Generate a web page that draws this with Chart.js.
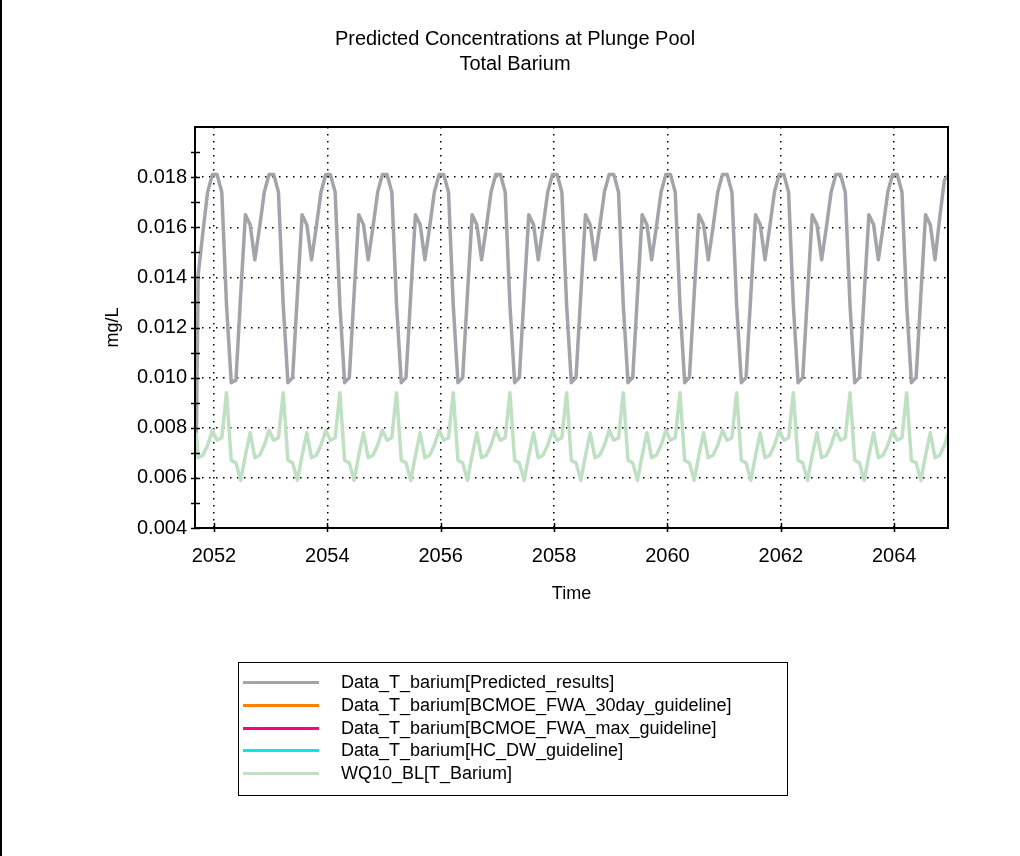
<!DOCTYPE html>
<html>
<head>
<meta charset="utf-8">
<script src="https://cdn.jsdelivr.net/npm/chart.js@4.4.1/dist/chart.umd.min.js"></script>
<style>
body { margin: 0; background: #fff; font-family: "Liberation Sans", Arial, sans-serif; color: #000; }
#wrap { position: relative; width: 1020px; height: 856px; overflow: hidden; }
#edge { position: absolute; left: 0; top: 0; width: 2px; height: 856px; background: #000; }
#title { position: absolute; left: 0; top: 26px; width: 1030px; text-align: center; font-size: 20px; line-height: 25px; }
#legend { position: absolute; left: 238px; top: 662px; width: 550px; height: 134px; box-sizing: border-box; border: 1.5px solid #000; padding-top: 8px; }
.row { position: relative; height: 22.75px; font-size: 18px; line-height: 22.75px; }
.row .swatch { position: absolute; left: 4px; top: 10px; width: 76px; height: 3px; }
.row .txt { position: absolute; left: 102px; top: 0; white-space: nowrap; }
</style>
</head>
<body>
<div id="wrap">
  <canvas id="concChart" width="1020" height="856"></canvas>
  <div id="edge"></div>
  <div id="title">Predicted Concentrations at Plunge Pool<br>Total Barium</div>
  <div id="legend"></div>
</div>
<script>
// monthly model output, first value is the initial condition at the start of the run
const startTime = 2051.69;
const firstMonth = 2051.721;

const seriesNames = [
    'Data_T_barium[Predicted_results]',
    'Data_T_barium[BCMOE_FWA_30day_guideline]',
    'Data_T_barium[BCMOE_FWA_max_guideline]',
    'Data_T_barium[HC_DW_guideline]',
    'WQ10_BL[T_Barium]'
];
const seriesColors = ['#a3a3aa', '#ff8000', '#ff0080', '#00e8f0', '#c0e0c4'];

// mg/L, one row per year (rows start in July)
const predicted = [0.0078,
    0.0141, 0.0158, 0.0174, 0.0181, 0.0181, 0.0174, 0.0129, 0.0098, 0.0099, 0.0133,
    0.0165, 0.0161, 0.0147, 0.0160, 0.0174, 0.0181, 0.0181, 0.0174, 0.0129, 0.0098, 0.0100, 0.0133,
    0.0165, 0.0161, 0.0147, 0.0160, 0.0174, 0.0181, 0.0181, 0.0174, 0.0129, 0.0098, 0.0100, 0.0133,
    0.0165, 0.0161, 0.0147, 0.0160, 0.0174, 0.0181, 0.0181, 0.0174, 0.0129, 0.0098, 0.0100, 0.0133,
    0.0165, 0.0161, 0.0147, 0.0160, 0.0174, 0.0181, 0.0181, 0.0174, 0.0129, 0.0098, 0.0100, 0.0133,
    0.0165, 0.0161, 0.0147, 0.0160, 0.0174, 0.0181, 0.0181, 0.0174, 0.0129, 0.0098, 0.0100, 0.0133,
    0.0165, 0.0161, 0.0147, 0.0160, 0.0174, 0.0181, 0.0181, 0.0174, 0.0129, 0.0098, 0.0100, 0.0133,
    0.0165, 0.0161, 0.0147, 0.0160, 0.0174, 0.0181, 0.0181, 0.0174, 0.0129, 0.0098, 0.0100, 0.0133,
    0.0165, 0.0161, 0.0147, 0.0160, 0.0174, 0.0181, 0.0181, 0.0174, 0.0129, 0.0098, 0.0100, 0.0133,
    0.0165, 0.0161, 0.0147, 0.0160, 0.0174, 0.0181, 0.0181, 0.0174, 0.0129, 0.0098, 0.0100, 0.0133,
    0.0165, 0.0161, 0.0147, 0.0160, 0.0174, 0.0181, 0.0181, 0.0174, 0.0129, 0.0098, 0.0100, 0.0133,
    0.0165, 0.0161, 0.0147, 0.0160, 0.0174, 0.0181, 0.0181, 0.0174, 0.0129, 0.0098, 0.0100, 0.0133,
    0.0165, 0.0161, 0.0147, 0.0160, 0.0174, 0.0181, 0.0181, 0.0174, 0.0129, 0.0098, 0.0100, 0.0133,
    0.0165, 0.0161, 0.0147, 0.0164, 0.0179, 0.0181
];

const baseline = [0.0078,
    0.0068, 0.0069, 0.0073, 0.0079, 0.0075, 0.0076, 0.0094, 0.0067, 0.0066, 0.0059,
    0.0069, 0.0078, 0.0068, 0.0069, 0.0073, 0.0079, 0.0075, 0.0076, 0.0094, 0.0067, 0.0066, 0.0059,
    0.0069, 0.0078, 0.0068, 0.0069, 0.0073, 0.0079, 0.0075, 0.0076, 0.0094, 0.0067, 0.0066, 0.0059,
    0.0069, 0.0078, 0.0068, 0.0069, 0.0073, 0.0079, 0.0075, 0.0076, 0.0094, 0.0067, 0.0066, 0.0059,
    0.0069, 0.0078, 0.0068, 0.0069, 0.0073, 0.0079, 0.0075, 0.0076, 0.0094, 0.0067, 0.0066, 0.0059,
    0.0069, 0.0078, 0.0068, 0.0069, 0.0073, 0.0079, 0.0075, 0.0076, 0.0094, 0.0067, 0.0066, 0.0059,
    0.0069, 0.0078, 0.0068, 0.0069, 0.0073, 0.0079, 0.0075, 0.0076, 0.0094, 0.0067, 0.0066, 0.0059,
    0.0069, 0.0078, 0.0068, 0.0069, 0.0073, 0.0079, 0.0075, 0.0076, 0.0094, 0.0067, 0.0066, 0.0059,
    0.0069, 0.0078, 0.0068, 0.0069, 0.0073, 0.0079, 0.0075, 0.0076, 0.0094, 0.0067, 0.0066, 0.0059,
    0.0069, 0.0078, 0.0068, 0.0069, 0.0073, 0.0079, 0.0075, 0.0076, 0.0094, 0.0067, 0.0066, 0.0059,
    0.0069, 0.0078, 0.0068, 0.0069, 0.0073, 0.0079, 0.0075, 0.0076, 0.0094, 0.0067, 0.0066, 0.0059,
    0.0069, 0.0078, 0.0068, 0.0069, 0.0073, 0.0079, 0.0075, 0.0076, 0.0094, 0.0067, 0.0066, 0.0059,
    0.0069, 0.0078, 0.0068, 0.0069, 0.0073, 0.0079, 0.0075, 0.0076, 0.0094, 0.0067, 0.0066, 0.0059,
    0.0069, 0.0078, 0.0068, 0.0069, 0.0073, 0.0079
];

// guidelines are far above this axis range, nothing of them shows
const guide30day = [];
const guideMax = [];
const guideDW = [];

const times = predicted.map((v, i) => i === 0 ? startTime : firstMonth + (i - 1) / 12);

function points(vals) {
    return vals.map((v, i) => ({x: times[i], y: v}));
}

function isMajorY(v) {
    const k = Math.round(v * 1000);
    return Math.abs(v * 1000 - k) < 1e-6 && k % 2 === 0 && k < 20;
}

const tickMarks = {
    id: 'tickMarks',
    afterDraw(chart) {
        const ctx = chart.ctx;
        const a = chart.chartArea;
        const xs = chart.scales.x;
        const ys = chart.scales.y;
        ctx.save();
        ctx.strokeStyle = '#000';
        ctx.lineWidth = 1.5;
        ys.ticks.forEach(t => {
            if (t.value > 0.0195) return;
            const py = Math.round(ys.getPixelForValue(t.value)) + 0.5;
            ctx.beginPath();
            ctx.moveTo(a.left - 4, py);
            ctx.lineTo(a.left + 5, py);
            ctx.stroke();
        });
        xs.ticks.forEach(t => {
            const px = Math.round(xs.getPixelForValue(t.value)) + 0.5;
            ctx.beginPath();
            ctx.moveTo(px, a.bottom - 5);
            ctx.lineTo(px, a.bottom + 4);
            ctx.stroke();
        });
        ctx.lineWidth = 2;
        ctx.strokeRect(a.left, a.top, a.right - a.left, a.bottom - a.top);
        ctx.restore();
    }
};

Chart.defaults.font.family = '"Liberation Sans", Arial, sans-serif';
Chart.defaults.color = '#000';

const ctx = document.getElementById('concChart').getContext('2d');
const concChart = new Chart(ctx, {
    type: 'line',
    data: {
        datasets: [{
            label: seriesNames[0],
            data: points(predicted),
            borderColor: seriesColors[0],
            borderWidth: 3.5
        }, {
            label: seriesNames[1],
            data: guide30day,
            borderColor: seriesColors[1],
            borderWidth: 3
        }, {
            label: seriesNames[2],
            data: guideMax,
            borderColor: seriesColors[2],
            borderWidth: 3
        }, {
            label: seriesNames[3],
            data: guideDW,
            borderColor: seriesColors[3],
            borderWidth: 3
        }, {
            label: seriesNames[4],
            data: points(baseline),
            borderColor: seriesColors[4],
            borderWidth: 3.5
        }]
    },
    options: {
        responsive: false,
        animation: false,
        devicePixelRatio: 1,
        elements: {
            point: { radius: 0 },
            line: { tension: 0, borderJoinStyle: 'round' }
        },
        layout: { padding: { top: 127, left: 102, right: 72, bottom: 251 } },
        plugins: {
            legend: { display: false },
            tooltip: { enabled: false }
        },
        scales: {
            x: {
                type: 'linear',
                min: 2051.665,
                max: 2064.95,
                afterFit: s => { s.height = 77; },
                ticks: {
                    stepSize: 2,
                    includeBounds: false,
                    padding: 16,
                    maxRotation: 0,
                    font: { size: 20 },
                    callback: v => String(v)
                },
                grid: { color: '#000', lineWidth: 1.5, drawTicks: false },
                border: { display: false, dash: [1.5, 5.5] },
                title: { display: true, text: 'Time', font: { size: 18 }, padding: 0 }
            },
            y: {
                min: 0.004,
                max: 0.020,
                afterFit: s => { s.width = 93; },
                ticks: {
                    stepSize: 0.001,
                    autoSkip: false,
                    padding: 8,
                    font: { size: 20 },
                    callback: v => isMajorY(v) ? v.toFixed(3) : ''
                },
                grid: {
                    color: c => (c.tick && isMajorY(c.tick.value)) ? '#000' : 'rgba(0,0,0,0)',
                    lineWidth: 1.5,
                    drawTicks: false
                },
                border: { display: false, dash: [1.5, 5.5] },
                title: { display: true, text: 'mg/L', font: { size: 18 }, padding: 0 }
            }
        }
    },
    plugins: [tickMarks]
});

// legend box below the plot
const legend = document.getElementById('legend');
concChart.data.datasets.forEach(ds => {
    const row = document.createElement('div');
    row.className = 'row';
    row.innerHTML = '<span class="swatch" style="background:' + ds.borderColor + '"></span>' +
        '<span class="txt"></span>';
    row.querySelector('.txt').textContent = ds.label;
    legend.appendChild(row);
});
</script>
</body>
</html>
